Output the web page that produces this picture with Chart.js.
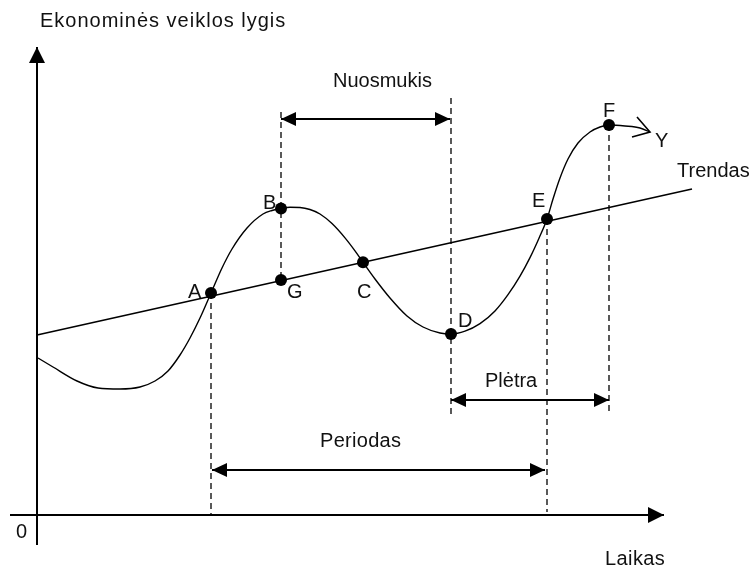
<!DOCTYPE html>
<html>
<head>
<meta charset="utf-8">
<script src="https://cdn.jsdelivr.net/npm/chart.js@4.4.1/dist/chart.umd.min.js"></script>
<style>
  html, body { margin: 0; padding: 0; background: #ffffff; }
  #c { display: block; }
</style>
</head>
<body>
<canvas id="c" width="752" height="571"></canvas>
<script>
// ---- Data (diagram units = picture units) ----
const curveX = [38, 53, 77, 98, 120, 140, 155, 168, 180, 190, 200, 211, 222, 232, 247, 263, 272, 281, 290, 300, 310, 320, 332, 345, 355, 363, 375, 390, 407, 423, 440, 451, 465, 480, 495, 508, 520, 530, 539, 547, 553, 560, 568, 578, 590, 600, 609, 625, 640, 650];
const curveY = [358, 367, 381, 388, 389, 387, 381, 371, 355, 338, 318, 293, 268, 249, 228, 214, 210.5, 208.5, 207.3, 207.5, 209.5, 214, 223.6, 237.9, 250.9, 262.3, 279, 298, 316, 327, 333, 334, 331.2, 323.7, 311, 294.7, 276.1, 257.6, 238.2, 219, 199, 178, 159, 143, 132, 127, 125, 126, 128, 132];

const trendX = [37, 692];
const trendY = [335, 189];

const pointNames = ['A', 'B', 'C', 'D', 'E', 'F', 'G'];
const pointX = [211, 281, 363, 451, 547, 609, 281];
const pointY = [293, 208.5, 262.3, 334, 219, 125, 280];

const dashX = [211, 281, 451, 547, 609];
const dashTop = [293, 112, 98, 219, 125];
const dashBottom = [515, 280, 415, 512, 415];

const spanNames = ['Nuosmukis', 'Periodas', 'Plėtra'];
const spanStart = [281, 212, 451];
const spanEnd = [450, 545, 609];
const spanLevel = [119, 470, 400];

const xAxisRange = [10, 664];
const xAxisLevel = 515;
const yAxisRange = [545, 47];
const yAxisPos = 37;

const yArrowX = [637, 650, 632];
const yArrowY = [117, 132, 137];

const textLabels = ['Ekonominės veiklos lygis', 'Laikas', '0', 'Trendas', 'Y',
                    'A', 'B', 'C', 'D', 'E', 'F', 'G', 'Nuosmukis', 'Periodas', 'Plėtra'];
const textX = [40, 605, 16, 677, 655, 188, 263, 357, 458, 532, 603, 287, 333, 320, 485];
const textY = [27, 565, 538, 177, 147, 298, 209, 298, 327, 207, 117, 298, 87, 447, 387];
const textSpacing = [1, 0.4, 0, 0, 0, 0, 0, 0, 0, 0, 0, 0, 0, 0.3, 0];

// ---- build datasets ----
const pts = (xs, ys) => xs.map((x, i) => ({ x: x, y: ys[i] }));
const datasets = [];

datasets.push({ label: 'curve', data: pts(curveX, curveY), showLine: true, borderColor: '#000',
  borderWidth: 1.4, pointRadius: 0, cubicInterpolationMode: 'monotone' });
datasets.push({ label: 'trend', data: pts(trendX, trendY), showLine: true, borderColor: '#000',
  borderWidth: 1.6, pointRadius: 0 });
datasets.push({ label: 'yArrow', data: pts(yArrowX, yArrowY), showLine: true, borderColor: '#000',
  borderWidth: 1.6, pointRadius: 0, tension: 0 });
datasets.push({ label: 'xAxis', data: [{ x: xAxisRange[0], y: xAxisLevel }, { x: xAxisRange[1], y: xAxisLevel }],
  showLine: true, borderColor: '#000', borderWidth: 2, pointRadius: 0, arrowEnd: true });
datasets.push({ label: 'yAxis', data: [{ x: yAxisPos, y: yAxisRange[0] }, { x: yAxisPos, y: yAxisRange[1] }],
  showLine: true, borderColor: '#000', borderWidth: 2, pointRadius: 0, arrowEnd: true });
dashX.forEach((x, i) => {
  datasets.push({ label: 'dash' + i, data: [{ x: x, y: dashTop[i] }, { x: x, y: dashBottom[i] }],
    showLine: true, borderColor: '#000', borderWidth: 1.3, borderDash: [6, 4], pointRadius: 0 });
});
spanNames.forEach((n, i) => {
  datasets.push({ label: n, data: [{ x: spanStart[i], y: spanLevel[i] }, { x: spanEnd[i], y: spanLevel[i] }],
    showLine: true, borderColor: '#000', borderWidth: 2, pointRadius: 0, arrowEnd: true, arrowStart: true });
});
datasets.push({ label: 'points', data: pts(pointX, pointY), showLine: false, pointRadius: 6,
  pointBackgroundColor: '#000', pointBorderColor: '#000', pointBorderWidth: 0 });

function arrowHead(ctx, tip, from, len, halfW) {
  const dx = tip.x - from.x, dy = tip.y - from.y;
  const d = Math.hypot(dx, dy) || 1;
  const ux = dx / d, uy = dy / d;
  const bx = tip.x - ux * len, by = tip.y - uy * len;
  ctx.beginPath();
  ctx.moveTo(tip.x, tip.y);
  ctx.lineTo(bx - uy * halfW, by + ux * halfW);
  ctx.lineTo(bx + uy * halfW, by - ux * halfW);
  ctx.closePath();
  ctx.fill();
}

const diagramPlugin = {
  id: 'diagram',
  beforeDraw(chart) {
    const ctx = chart.ctx;
    ctx.save();
    ctx.fillStyle = '#ffffff';
    ctx.fillRect(0, 0, chart.width, chart.height);
    ctx.restore();
  },
  afterDatasetsDraw(chart) {
    const ctx = chart.ctx;
    const sx = chart.scales.x, sy = chart.scales.y;
    ctx.save();
    ctx.fillStyle = '#000';
    chart.data.datasets.forEach((ds, i) => {
      const meta = chart.getDatasetMeta(i);
      const el = meta.data;
      if (ds.arrowEnd && el.length > 1) {
        const a = el[el.length - 1], b = el[el.length - 2];
        const isAxis = ds.label === 'xAxis' || ds.label === 'yAxis';
        arrowHead(ctx, { x: a.x, y: a.y }, { x: b.x, y: b.y }, isAxis ? 16 : 15, isAxis ? 8 : 7);
      }
      if (ds.arrowStart && el.length > 1) {
        const a = el[0], b = el[1];
        arrowHead(ctx, { x: a.x, y: a.y }, { x: b.x, y: b.y }, 15, 7);
      }
    });
    ctx.font = '20px "Liberation Sans", Arial, sans-serif';
    ctx.textBaseline = 'alphabetic';
    ctx.textAlign = 'left';
    ctx.fillStyle = '#111';
    textLabels.forEach((t, i) => {
      ctx.letterSpacing = textSpacing[i] + 'px';
      ctx.fillText(t, sx.getPixelForValue(textX[i]), sy.getPixelForValue(textY[i]));
    });
    ctx.restore();
  }
};

new Chart(document.getElementById('c'), {
  type: 'scatter',
  data: { datasets: datasets },
  options: {
    responsive: false,
    animation: false,
    devicePixelRatio: 1,
    layout: { padding: 0, autoPadding: false },
    plugins: { legend: { display: false }, tooltip: { enabled: false } },
    scales: {
      x: { type: 'linear', min: 0, max: 752, display: false },
      y: { type: 'linear', min: 0, max: 571, reverse: true, display: false }
    }
  },
  plugins: [diagramPlugin]
});
</script>
</body>
</html>
